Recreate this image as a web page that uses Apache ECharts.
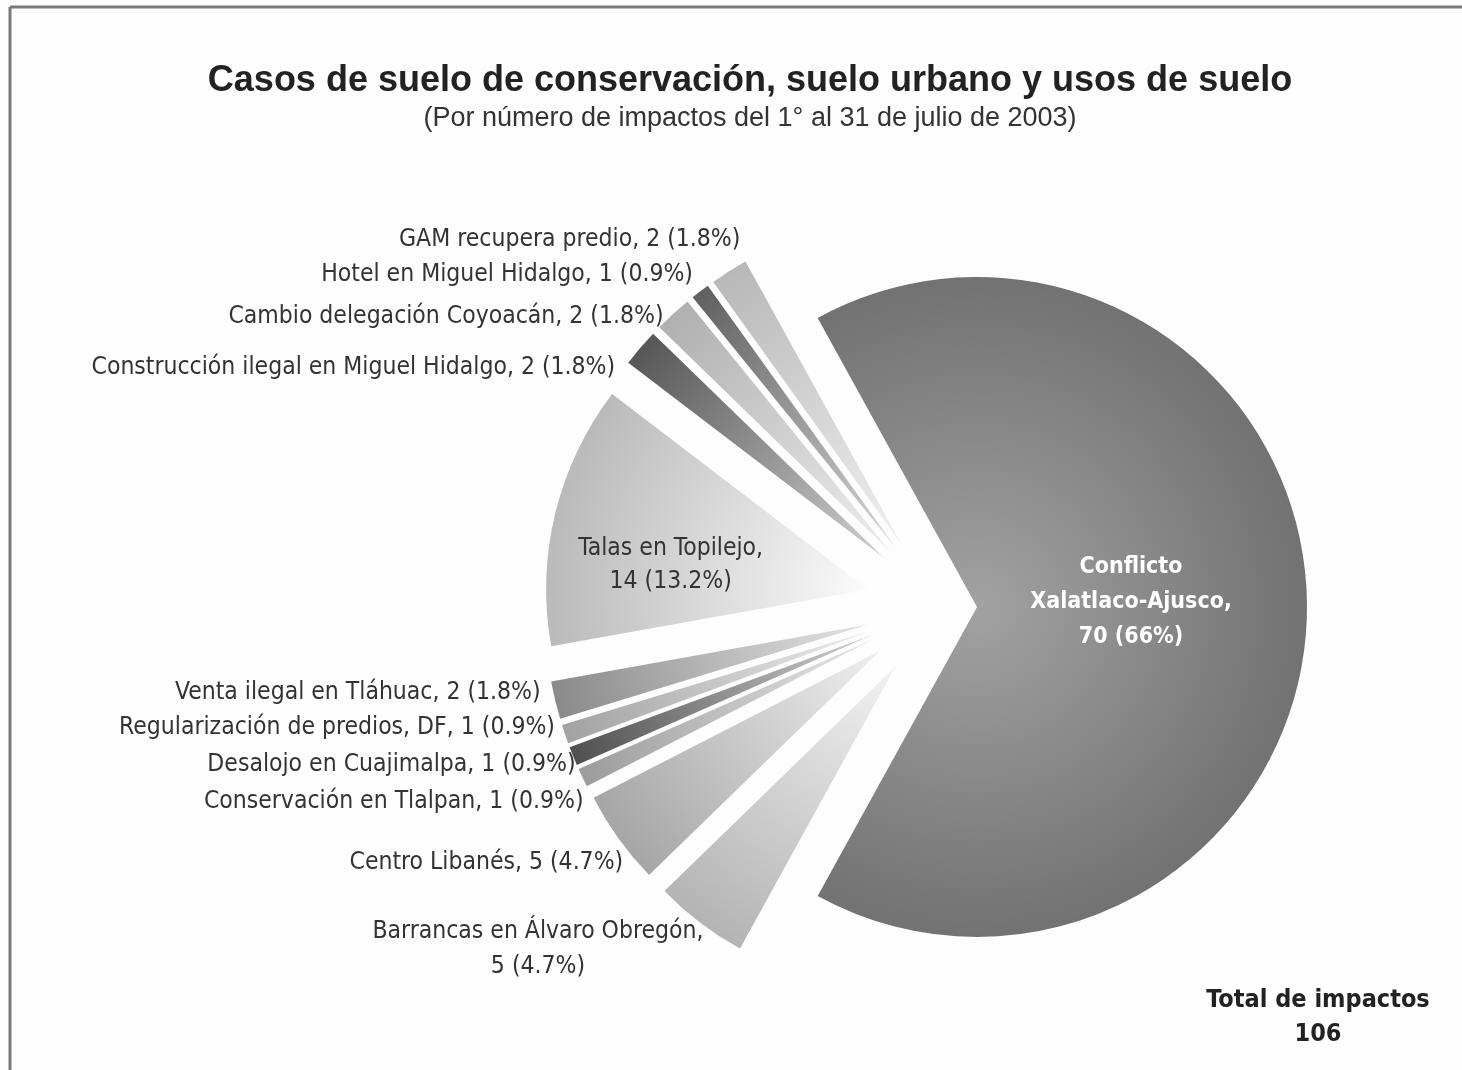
<!DOCTYPE html>
<html>
<head>
<meta charset="utf-8">
<script src="https://cdn.jsdelivr.net/npm/echarts@6/dist/echarts.min.js"></script>
<style>
html,body{margin:0;padding:0;background:#fdfdfd;}
#chart{width:1462px;height:1070px;}
</style>
</head>
<body>
<div id="chart"></div>
<script>
// ---- data ----
const categories = [
  'Conflicto\nXalatlaco-Ajusco,',
  'Barrancas en Álvaro Obregón,',
  'Centro Libanés,',
  'Conservación en Tlalpan,',
  'Desalojo en Cuajimalpa,',
  'Regularización de predios, DF,',
  'Venta ilegal en Tláhuac,',
  'Talas en Topilejo,',
  'Construcción ilegal en Miguel Hidalgo,',
  'Cambio delegación Coyoacán,',
  'Hotel en Miguel Hidalgo,',
  'GAM recupera predio,'
];
const values = [70, 5, 5, 1, 1, 1, 2, 14, 2, 2, 1, 2];
const pctLabels = ['66%', '4.7%', '4.7%', '0.9%', '0.9%', '0.9%', '1.8%', '13.2%', '1.8%', '1.8%', '0.9%', '1.8%'];
const titleText = 'Casos de suelo de conservación, suelo urbano y usos de suelo';
const subtitleText = '(Por número de impactos del 1° al 31 de julio de 2003)';
const totalLabel = 'Total de impactos';

// ---- styles ----
const outerColors = ['#727272', '#b4b4b4', '#a6a6a6', '#9c9c9c', '#4f4f4f', '#a2a2a2', '#8a8a8a', '#bababa', '#575757', '#b0b0b0', '#606060', '#b8b8b8'];
const innerColors = ['#a2a2a2', '#f2f2f2', '#efefef', '#e6e6e6', '#d0d0d0', '#ececec', '#e4e4e4', '#fbfbfb', '#cfcfcf', '#eeeeee', '#d6d6d6', '#f0f0f0'];
// label nudges [dx, dy, align] relative to library placement
const labelNudge = [
  [-14, -4], [-145, 12, 'center'], [26, 14], [24, 16], [26, 2], [14, -12],
  [10, -11], [-38, 15], [-5, 34], [9, 18], [10, 0], [27, -14]
];
const CX = 941, CY = 607, R_SMALL = 322, R_BIG = 330;
const NARROW = "'Liberation Sans Narrow', 'Arial Narrow', 'DejaVu Sans Condensed', sans-serif";

const total = values.reduce((a, b) => a + b, 0);
const startAngle = 180 * values[0] / total;

function grad(i, R) {
  return {
    type: 'radial', x: CX, y: CY, r: R, global: true,
    colorStops: [{offset: 0, color: innerColors[i]}, {offset: 1, color: outerColors[i]}]
  };
}

function buildData(showBig, R) {
  return values.map((v, i) => {
    const isBig = i === 0;
    const visible = showBig ? isBig : !isBig;
    const inside = i === 0 || i === 7;
    const item = {
      name: categories[i],
      value: v,
      selected: visible,
      itemStyle: {color: visible ? grad(i, R) : 'rgba(0,0,0,0)'},
      select: {itemStyle: {color: visible ? grad(i, R) : 'rgba(0,0,0,0)'}},
      label: {show: visible},
      labelLine: {show: false}
    };
    if (visible) {
      item.label = {
        show: true,
        position: inside ? 'inside' : 'outside',
        formatter: categories[i] + (i === 1 || inside ? '\n' : ' ') + v + ' (' + pctLabels[i] + ')',
        color: i === 0 ? '#ffffff' : '#333333',
        fontFamily: NARROW,
        fontSize: i === 0 ? 23 : 24.5,
        fontWeight: i === 0 ? 'bold' : 'normal',
        lineHeight: i === 7 ? 33 : 35
      };
    }
    return item;
  });
}

function series(showBig, offset, R) {
  return {
    type: 'pie',
    center: [CX, CY],
    radius: [0, R],
    startAngle: startAngle,
    clockwise: true,
    avoidLabelOverlap: false,
    selectedMode: 'multiple',
    selectedOffset: offset,
    silent: true,
    animation: false,
    labelLine: {show: false, length: 20, length2: 0},
    labelLayout: function (p) {
      const n = labelNudge[p.dataIndex];
      const out = {dx: n[0], dy: n[1] - (CY - 606)};
      if (n[2]) out.align = n[2];
      return out;
    },
    data: buildData(showBig, R)
  };
}

const chart = echarts.init(document.getElementById('chart'), null, {renderer: 'canvas'});
chart.setOption({
  backgroundColor: '#fdfdfd',
  animation: false,
  title: [{
    text: titleText,
    subtext: subtitleText,
    left: 745, top: 58, textAlign: 'center',
    itemGap: 6,
    textStyle: {fontFamily: "'Liberation Sans', Arial, sans-serif", fontSize: 36, fontWeight: 'bold', color: '#222'},
    subtextStyle: {fontFamily: "'Liberation Sans', Arial, sans-serif", fontSize: 27, color: '#333'}
  }, {
    text: totalLabel + '\n' + total,
    left: 1313, top: 978, textAlign: 'center',
    textStyle: {fontFamily: NARROW, fontSize: 25, fontWeight: 'bold', color: '#222', lineHeight: 34}
  }],
  graphic: [
    {type: 'line', shape: {x1: 10, y1: 7, x2: 1462, y2: 7}, style: {stroke: '#7a7a7a', lineWidth: 3}},
    {type: 'line', shape: {x1: 10, y1: 7, x2: 10, y2: 1070}, style: {stroke: '#7a7a7a', lineWidth: 3}}
  ],
  series: [series(true, 36, R_BIG), series(false, 75, R_SMALL)]
});
</script>
</body>
</html>
